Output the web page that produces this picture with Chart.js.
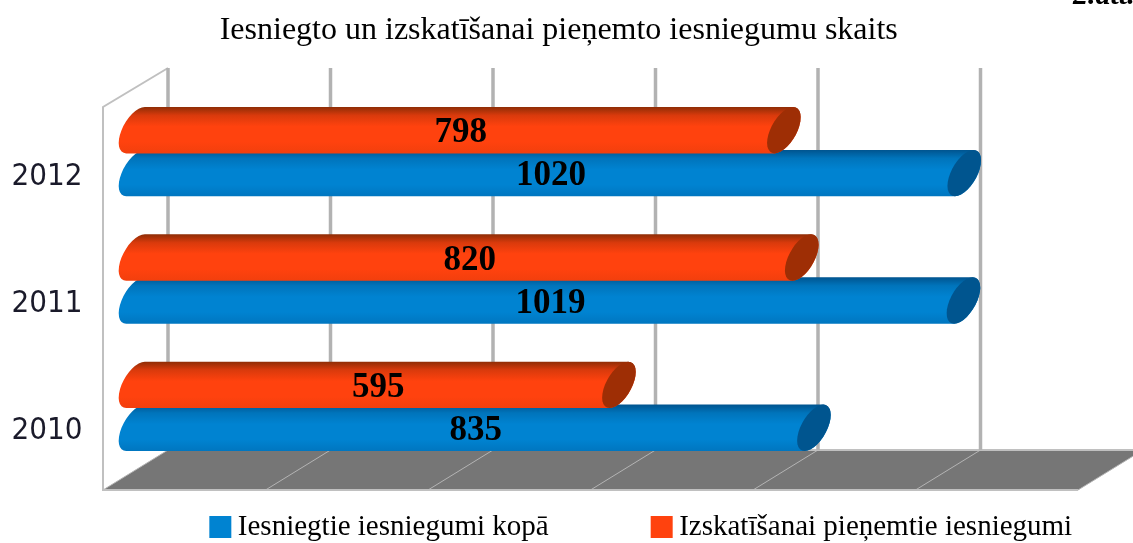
<!DOCTYPE html>
<html>
<head>
<meta charset="utf-8">
<script src="https://cdn.jsdelivr.net/npm/chart.js@4"></script>
<style>
  html, body { margin:0; padding:0; background:#fff; overflow:hidden; }
  #wrap { width:1133px; height:543px; }
</style>
</head>
<body>
<div id="wrap"><canvas id="chart"></canvas></div>
<script>
const categories = ['2012', '2011', '2010'];
const seriesNames = ['Iesniegtie iesniegumi kopā', 'Izskatīšanai pieņemtie iesniegumi'];
const totalValues = [1020, 1019, 835];
const acceptedValues = [798, 820, 595];
const axisTicks = [0, 200, 400, 600, 800, 1000, 1200];
const chartTitle = 'Iesniegto un izskatīšanai pieņemto iesniegumu skaits';
const cornerNote = '2.att.';

const SERIF = '"Liberation Serif", "Times New Roman", serif';
const DEPTH_X = 32.5, DEPTH_Y = 20;
const BLUE = '#0083d1', ORANGE = '#ff420e';
const SHADES = {
  [BLUE]: ['#00548f', '#0074bb', '#0083d1', '#0083d1', '#0076c0'],
  [ORANGE]: ['#8e2d06', '#d93a0c', '#ff420e', '#ff420e', '#f23f0d']
};

/* Cylinder bars: sheared stadium with an elliptical end cap */
Chart.BarElement.prototype.draw = function (ctx) {
  const h = this.height / 2, rx = 14, k = 0.4;
  const shade = SHADES[this.options.backgroundColor];
  ctx.save();
  ctx.transform(1, 0, -k, 1, k * this.y, 0);
  ctx.translate(0, this.y);
  const g = ctx.createLinearGradient(0, -h, 0, h);
  [0, 0.18, 0.42, 0.75, 1].forEach((s, i) => g.addColorStop(s, shade[i]));
  ctx.beginPath();
  ctx.ellipse(this.base, 0, rx, h, 0, Math.PI / 2, Math.PI * 1.5);
  ctx.ellipse(this.x, 0, rx, h, 0, -Math.PI / 2, Math.PI / 2);
  ctx.closePath();
  ctx.fillStyle = g;
  ctx.fill();
  ctx.beginPath();
  ctx.ellipse(this.x, 0, rx, h, 0, 0, Math.PI * 2);
  ctx.fillStyle = this.options.borderColor;
  ctx.fill();
  ctx.restore();
};

/* 3D walls, floor, value labels */
const scene = {
  id: 'scene',
  beforeLayout(chart) {
    const lg = chart.legend;
    if (!lg._fitWrapped) {
      const fit = lg.fit;
      lg.fit = function () { fit.call(this); this.height = 73; };
      lg._fitWrapped = true;
    }
  },
  afterLayout(chart) {
    chart.legend.left += 89.5;
    chart.legend.right += 89.5;
    chart.legend.top = 402.5;
    chart.titleBlock.left += 3.5;
    chart.titleBlock.right += 3.5;
  },
  beforeDatasetsDraw(chart) {
    const { ctx, chartArea: a, scales: { x } } = chart;
    const xs = axisTicks.map(v => x.getPixelForValue(v));
    const backTop = a.top - DEPTH_Y, backBottom = a.bottom - DEPTH_Y, front = a.bottom + DEPTH_Y;
    ctx.save();
    ctx.fillStyle = '#767676';
    ctx.beginPath();
    ctx.moveTo(xs[0] + DEPTH_X, backBottom);
    ctx.lineTo(xs[6] + DEPTH_X, backBottom);
    ctx.lineTo(xs[6] - DEPTH_X, front);
    ctx.lineTo(xs[0] - DEPTH_X, front);
    ctx.closePath();
    ctx.fill();
    ctx.strokeStyle = '#b4b4b4';
    ctx.lineWidth = 1;
    xs.forEach(px => {
      ctx.beginPath();
      ctx.moveTo(px + DEPTH_X, backBottom);
      ctx.lineTo(px - DEPTH_X, front);
      ctx.stroke();
    });
    ctx.strokeStyle = '#c0c0c0';
    ctx.lineWidth = 2;
    ctx.beginPath();
    ctx.moveTo(xs[0] + DEPTH_X, backTop);
    ctx.lineTo(xs[0] - DEPTH_X, a.top + 19);
    ctx.lineTo(xs[0] - DEPTH_X, front);
    ctx.lineTo(xs[6] - DEPTH_X, front);
    ctx.stroke();
    ctx.beginPath();
    ctx.moveTo(xs[0] + DEPTH_X, backBottom);
    ctx.lineTo(xs[6] + DEPTH_X, backBottom);
    ctx.stroke();
    ctx.strokeStyle = '#b2b2b2';
    ctx.lineWidth = 3.5;
    xs.forEach(px => {
      ctx.beginPath();
      ctx.moveTo(px + DEPTH_X, backTop);
      ctx.lineTo(px + DEPTH_X, backBottom);
      ctx.stroke();
    });
    ctx.restore();
  },
  afterDatasetsDraw(chart) {
    const { ctx } = chart;
    ctx.save();
    ctx.font = 'bold 35px ' + SERIF;
    ctx.fillStyle = '#000';
    ctx.textAlign = 'center';
    ctx.textBaseline = 'middle';
    chart.getSortedVisibleDatasetMetas().forEach(meta => {
      meta.data.forEach((bar, i) => {
        const val = chart.data.datasets[meta.index].data[i];
        ctx.fillText(val, (bar.base + bar.x) / 2 + 1, bar.y + 3);
      });
    });
    ctx.font = 'italic bold 30px ' + SERIF;
    ctx.textAlign = 'left';
    ctx.textBaseline = 'alphabetic';
    ctx.fillText(cornerNote, 1073, 4);
    ctx.restore();
  }
};

new Chart(document.getElementById('chart'), {
  type: 'bar',
  plugins: [scene],
  data: {
    labels: categories,
    datasets: [
      { label: seriesNames[0], data: totalValues, order: 2, backgroundColor: BLUE, borderColor: '#00558f', clip: false },
      { label: seriesNames[1], data: acceptedValues, order: 1, backgroundColor: ORANGE, borderColor: '#9e2e05', clip: false }
    ]
  },
  options: {
    indexAxis: 'y',
    responsive: true,
    maintainAspectRatio: false,
    animation: false,
    categoryPercentage: 0.675,
    barPercentage: 1.08,
    borderWidth: 0,
    layout: { padding: { left: 0, right: 22.5, top: 0, bottom: 0 } },
    scales: {
      x: { display: false, min: 0, max: 1200, ticks: { stepSize: 200 } },
      y: {
        afterFit(s) { s.width = 135.5; },
        border: { display: false },
        grid: { display: false, drawTicks: false },
        ticks: {
          color: '#1a1a2a',
          labelOffset: 25,
          padding: 53,
          font: { family: '"DejaVu Sans Condensed", "DejaVu Sans", sans-serif', size: 31 }
        }
      }
    },
    plugins: {
      tooltip: { enabled: false },
      title: {
        display: true,
        text: chartTitle,
        color: '#000',
        font: { family: SERIF, size: 32, weight: 'normal', lineHeight: 1.125 },
        padding: { top: 13, bottom: 39 }
      },
      legend: {
        position: 'bottom',
        labels: {
          color: '#000',
          boxWidth: 6,
          boxHeight: 6,
          padding: 110,
          font: { family: SERIF, size: 29, lineHeight: 1.37 },
          generateLabels(chart) {
            return chart.data.datasets.map((d, i) => ({
              text: d.label, datasetIndex: i, fillStyle: d.backgroundColor,
              strokeStyle: d.backgroundColor, lineWidth: 16, fontColor: '#000'
            }));
          }
        }
      }
    }
  }
});
</script>
</body>
</html>
